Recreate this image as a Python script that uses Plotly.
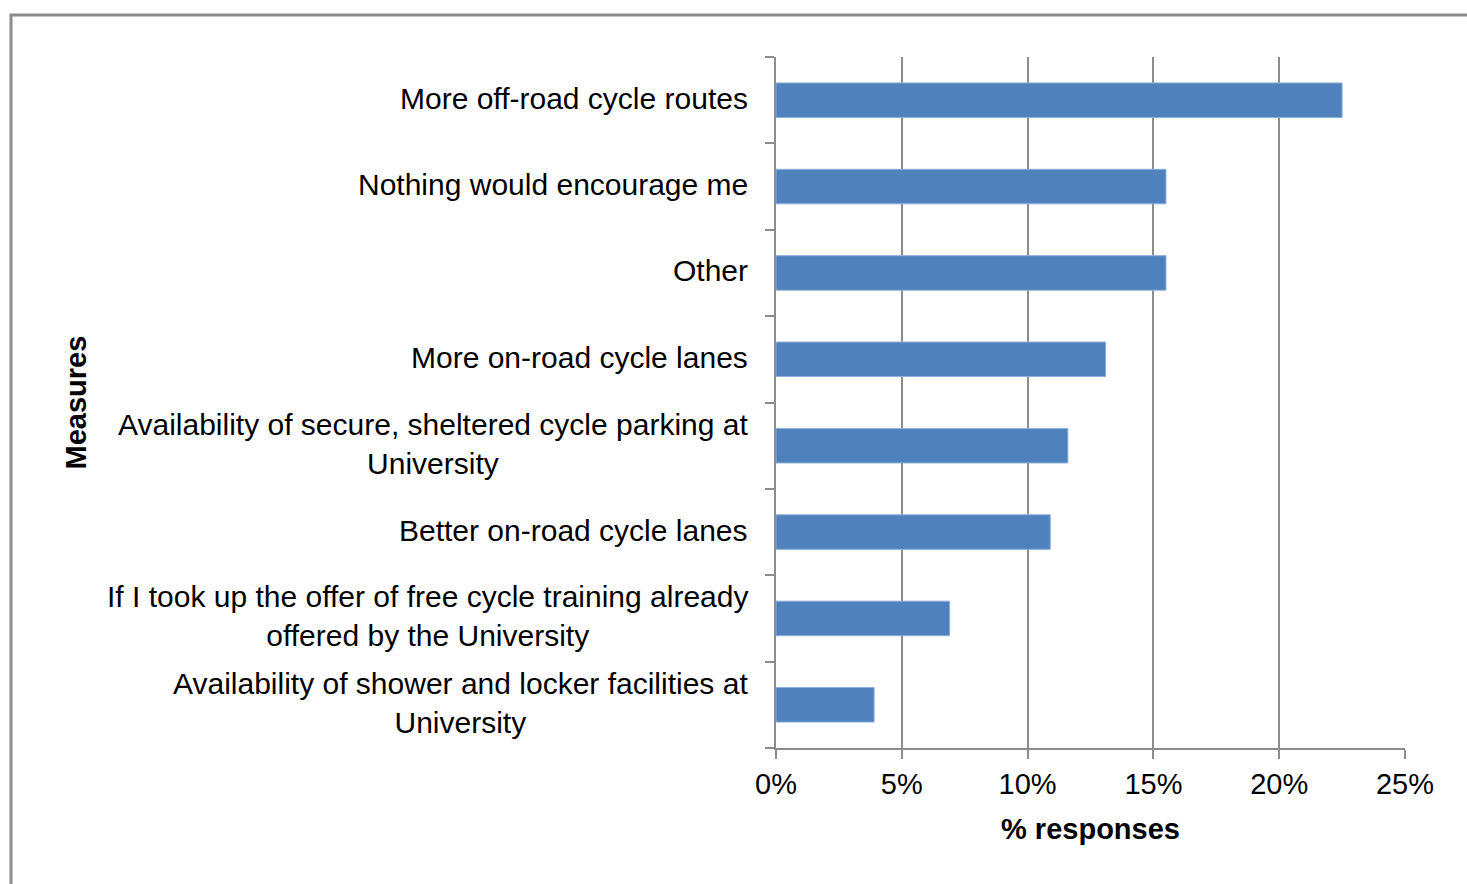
import plotly.graph_objects as go

categories = [
    "More off-road cycle routes",
    "Nothing would encourage me",
    "Other",
    "More on-road cycle lanes",
    "Availability of secure, sheltered cycle parking at<br>University",
    "Better on-road cycle lanes",
    "If I took up the offer of free cycle training already<br>offered by the University",
    "Availability of shower and locker facilities at<br>University",
]
values = [22.5, 15.5, 15.5, 13.1, 11.6, 10.9, 6.9, 3.9]
x_ticks = [0, 5, 10, 15, 20, 25]
x_ticklabels = ["0%", "5%", "10%", "15%", "20%", "25%"]

FONT = "Liberation Sans, Arial, sans-serif"
GRAY = "#8c8c8c"
W, H = 1467, 884
L, R, T, B = 776, 62, 57, 136
FS = 30

fig = go.Figure()
fig.add_trace(go.Bar(
    y=categories, x=values, orientation="h", width=0.4,
    marker=dict(color="#4F81BD", line=dict(color="#8eb0dc", width=1)),
    hoverinfo="x+y",
))

annotations = []
for c in categories:
    annotations.append(dict(
        x=0, xref="x", y=c, yref="y", text=c, showarrow=False,
        xanchor="right", yanchor="middle", align="center", xshift=-26,
        yshift=2,
        font=dict(family=FONT, size=FS, color="#000000"),
    ))
annotations.append(dict(
    x=(75 - L) / (W - L - R), xref="paper", y=0.5, yref="paper",
    text="<b>Measures</b>", textangle=-90, showarrow=False,
    xanchor="center", yanchor="middle",
    font=dict(family=FONT, size=29, color="#000000"),
))

pw = W - L - R
ph = H - T - B
fig.update_layout(
    width=W, height=H,
    margin=dict(l=L, r=R, t=T, b=B, pad=0),
    paper_bgcolor="white", plot_bgcolor="white",
    showlegend=False,
    font=dict(family=FONT, size=FS, color="#000000"),
    annotations=annotations,
    shapes=[dict(
        type="rect", xref="paper", yref="paper",
        x0=(11 - L) / pw, x1=(W + 50 - L) / pw,
        y0=(H - B - (H + 50)) / ph, y1=(H - B - 15) / ph,
        line=dict(color=GRAY, width=3), fillcolor="rgba(0,0,0,0)", layer="below",
    )],
    xaxis=dict(
        range=[0, 25], tickvals=x_ticks, ticktext=x_ticklabels,
        showgrid=True, gridcolor=GRAY, gridwidth=2,
        showline=True, linecolor=GRAY, linewidth=2,
        ticks="outside", ticklen=9, tickwidth=2, tickcolor=GRAY,
        zeroline=False, fixedrange=True,
        tickfont=dict(family=FONT, size=29, color="#000000"),
        title=dict(text="<b>% responses</b>", standoff=20,
                   font=dict(family=FONT, size=29, color="#000000")),
    ),
    yaxis=dict(
        categoryorder="array", categoryarray=categories[::-1],
        showticklabels=False, showgrid=False,
        showline=True, linecolor=GRAY, linewidth=2,
        ticks="outside", ticklen=9, tickwidth=2, tickcolor=GRAY,
        tickson="boundaries", zeroline=False, fixedrange=True,
    ),
)

fig.write_html(
    "out.html",
    config={"displayModeBar": False},
    post_script="document.body.style.margin='0';document.body.style.overflow='hidden';",
)
